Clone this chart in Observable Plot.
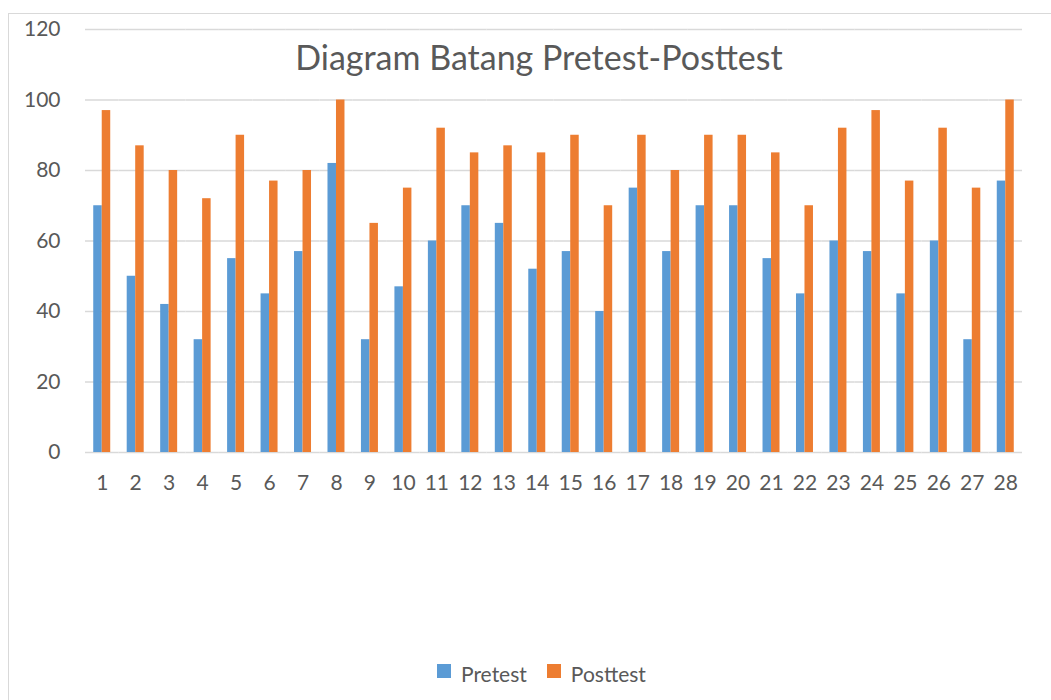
<!DOCTYPE html>
<html>
<head>
<meta charset="utf-8">
<script src="https://cdn.jsdelivr.net/npm/d3@7"></script>
<script src="https://cdn.jsdelivr.net/npm/@observablehq/plot@0.6"></script>
<style>
  html, body { margin: 0; padding: 0; background: #fff; }
  #wrap { position: relative; width: 1051px; height: 700px; overflow: hidden; font-family: Lato, sans-serif; color: #595959; }
  #frame { position: absolute; left: 8px; top: 13px; width: 1100px; height: 800px; border-left: 1.5px solid #D9D9D9; border-top: 1.5px solid #D9D9D9; }
  #chart { position: absolute; left: 0; top: 0; }
  #title { position: absolute; left: 0; width: 1078px; top: 40px; text-align: center; font-size: 34px; line-height: 34px; white-space: nowrap; }
  #legend { position: absolute; left: 437px; top: 660px; height: 21px; display: flex; align-items: center; font-size: 21px; line-height: 21px; }
  .item { display: flex; align-items: center; margin-right: 20px; }
  .sw { width: 14px; height: 14px; margin-right: 10px; }
  .lab { position: relative; top: 3px; }
</style>
</head>
<body>
<div id="wrap">
  <div id="frame"></div>
  <div id="chart"></div>
  <div id="title"></div>
  <div id="legend"></div>
</div>
<script>
const titleText = "Diagram Batang Pretest-Posttest";
const ids = [1,2,3,4,5,6,7,8,9,10,11,12,13,14,15,16,17,18,19,20,21,22,23,24,25,26,27,28];
const pretest  = [70,50,42,32,55,45,57,82,32,47,60,70,65,52,57,40,75,57,70,70,55,45,60,57,45,60,32,77];
const posttest = [97,87,80,72,90,77,80,100,65,75,92,85,87,85,90,70,90,80,90,90,85,70,92,97,77,92,75,100];
const series = ["Pretest", "Posttest"];
const colors = ["#5B9BD5", "#ED7D31"];
const yTicks = [0, 20, 40, 60, 80, 100, 120];

const data = ids.flatMap((id, i) => [
  {id, series: series[0], value: pretest[i]},
  {id, series: series[1], value: posttest[i]}
]);

const chart = Plot.plot({
  width: 1051,
  height: 520,
  marginLeft: 85,
  marginRight: 29,
  marginTop: 29,
  marginBottom: 68,
  style: {fontFamily: "Lato, sans-serif", fontSize: "21px", color: "#595959", background: "transparent", overflow: "visible"},
  fx: {domain: ids, padding: 0, round: false, label: null, axis: "bottom", tickSize: 0, tickPadding: 23},
  x: {domain: series, paddingInner: 0, paddingOuter: 0.97, round: false, axis: null},
  y: {domain: [0, 120], ticks: yTicks, label: null, tickSize: 0, tickPadding: 25},
  color: {domain: series, range: colors},
  marks: [
    Plot.ruleY(yTicks, {stroke: "#D9D9D9", strokeWidth: 1.5}),
    Plot.barY(data, {fx: "id", x: "series", y: "value", fill: "series", insetLeft: 0, insetRight: 0})
  ]
});
document.getElementById("chart").appendChild(chart);

document.getElementById("title").textContent = titleText;

const legend = document.getElementById("legend");
series.forEach((s, i) => {
  const item = document.createElement("div");
  item.className = "item";
  const sw = document.createElement("div");
  sw.className = "sw";
  sw.style.background = colors[i];
  const lab = document.createElement("span");
  lab.className = "lab";
  lab.textContent = s;
  item.appendChild(sw);
  item.appendChild(lab);
  legend.appendChild(item);
});
</script>
</body>
</html>
